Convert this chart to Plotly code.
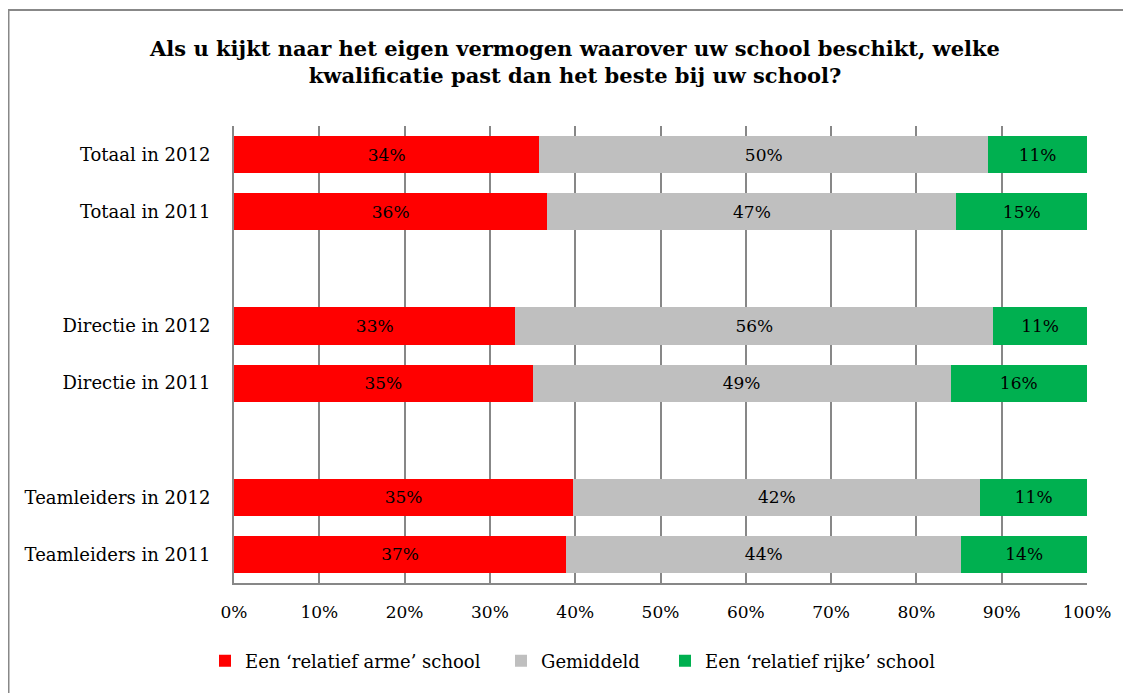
import plotly.graph_objects as go

categories = ["Totaal in 2012", "Totaal in 2011", " ",
              "Directie in 2012", "Directie in 2011", "  ",
              "Teamleiders in 2012", "Teamleiders in 2011"]
arm = [34, 36, None, 33, 35, None, 35, 37]
gemiddeld = [50, 47, None, 56, 49, None, 42, 44]
rijk = [11, 15, None, 11, 16, None, 11, 14]
series_names = ["Een \u2018relatief arme\u2019 school", "Gemiddeld", "Een \u2018relatief rijke\u2019 school"]
colors = ["#FF0000", "#BFBFBF", "#00B050"]
tick_vals = [0, 10, 20, 30, 40, 50, 60, 70, 80, 90, 100]
tick_text = [f"{v}%" for v in tick_vals]

FONT = "DejaVu Serif"

W, H = 1131, 693
OFF = 8  # page body margin
L, R, T, B = 234 - OFF, W - (1087 - OFF), 126 - OFF, H - (583 - OFF)
pw, ph = W - L - R, H - T - B

def px(x):
    return (x - OFF - L) / pw

def py(y):
    return (H - B - (y - OFF)) / ph

legend_ids = ["legend", "legend2", "legend3"]
legend_left = [205, 501, 665]

fig = go.Figure()
for name, vals, col, lid in zip(series_names, [arm, gemiddeld, rijk], colors, legend_ids):
    fig.add_trace(go.Bar(
        y=categories, x=vals, name=name, orientation="h", legend=lid,
        showlegend=True,
        marker=dict(color=col, line=dict(width=0)),
        text=[f"{v}%" if v is not None else "" for v in vals],
        textposition="inside", insidetextanchor="middle", textangle=0,
        textfont=dict(family=FONT, size=17, color="black"),
        constraintext="none",
    ))

legends = {}
for lid, lx in zip(legend_ids, legend_left):
    legends[lid] = dict(
        orientation="h", x=px(lx), xanchor="left", xref="paper",
        y=py(661), yanchor="middle", yref="paper",
        font=dict(family=FONT, size=18, color="black"),
        itemwidth=30, bgcolor="rgba(0,0,0,0)", visible=True,
    )

fig.update_layout(
    width=W, height=H, showlegend=True,
    barmode="stack", barnorm="percent", bargap=0.35,
    plot_bgcolor="white", paper_bgcolor="white",
    margin=dict(l=L, r=R, t=T, b=B, autoexpand=False),
    font=dict(family=FONT, size=18, color="black"),
    title=dict(
        text="<b>Als u kijkt naar het eigen vermogen waarover uw school beschikt, welke<br>kwalificatie past dan het beste bij uw school?</b>",
        x=(575 - OFF) / W, xref="container", xanchor="center",
        y=1 - (56 - OFF) / H, yref="container", yanchor="middle",
        font=dict(family=FONT, size=21, color="black"),
    ),
    xaxis=dict(
        range=[0, 100], tickvals=tick_vals, ticktext=tick_text,
        showgrid=True, gridcolor="#878787", gridwidth=1.5,
        showline=True, linecolor="#878787", linewidth=2,
        ticks="", zeroline=False, fixedrange=True, ticklabelstandoff=13,
        tickfont=dict(family=FONT, size=17, color="black"),
    ),
    yaxis=dict(
        autorange="reversed", type="category",
        categoryorder="array", categoryarray=categories,
        showline=True, linecolor="#878787", linewidth=2,
        ticks="", showgrid=False, ticklabelstandoff=18,
        tickfont=dict(family=FONT, size=18, color="black"),
    ),
    shapes=[dict(
        type="rect", xref="paper", yref="paper",
        x0=px(8.5), x1=px(1160), y0=py(720), y1=py(10),
        line=dict(color="#888888", width=2), fillcolor="rgba(0,0,0,0)", layer="below",
    )],
    **legends,
)

fig.write_html("out.html")
